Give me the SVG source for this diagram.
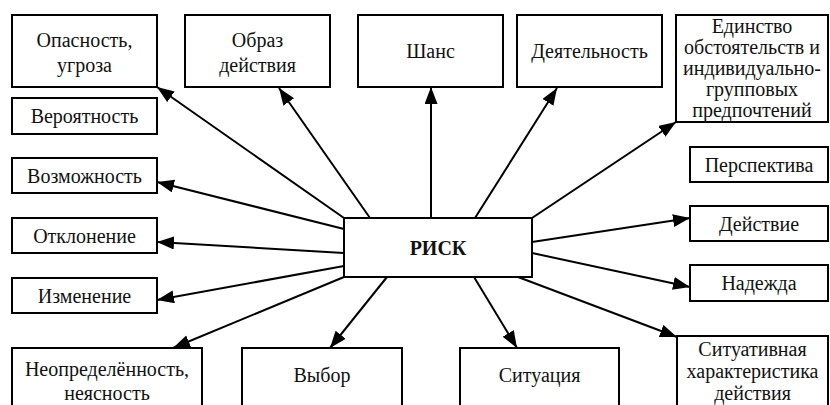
<svg xmlns="http://www.w3.org/2000/svg" width="830" height="405" viewBox="0 0 830 405" font-family="Liberation Serif, Times New Roman, Tinos, DejaVu Serif, serif">
<defs>
<marker id="ah" markerUnits="userSpaceOnUse" markerWidth="18" markerHeight="14" refX="17" refY="6.5" orient="auto">
<path d="M0,0 L17,6.5 L0,13 z" fill="#000"/>
</marker>
<style>
rect{fill:#fff;stroke:#000;stroke-width:2}
text{font-size:20px;text-anchor:middle;fill:#111}
.b{font-weight:bold}
#connectors line{stroke:#000;stroke-width:2;marker-end:url(#ah)}
</style>
</defs>
<rect x="0" y="0" width="830" height="405" style="fill:#fff;stroke:none"/>
<g id="connectors">
<line x1="344" y1="218" x2="157" y2="87"/>
<line x1="370" y1="218" x2="279" y2="88"/>
<line x1="431" y1="218" x2="431" y2="87"/>
<line x1="475" y1="218" x2="557" y2="88"/>
<line x1="532" y1="218" x2="676" y2="122"/>
<line x1="344" y1="229" x2="157" y2="182"/>
<line x1="344" y1="253" x2="157" y2="242"/>
<line x1="344" y1="266" x2="157" y2="300"/>
<line x1="344" y1="277" x2="173" y2="348"/>
<line x1="387" y1="277" x2="330" y2="348"/>
<line x1="474" y1="277" x2="517" y2="348"/>
<line x1="518" y1="277" x2="677" y2="337"/>
<line x1="532" y1="242" x2="690" y2="218"/>
<line x1="532" y1="253" x2="690" y2="287"/>
</g>
<g id="risk"><rect x="344" y="218" width="188" height="59"/><text class="b" x="438" y="255">РИСК</text></g>
<g id="opasnost"><rect x="12" y="15" width="145" height="72"/><text x="84.5" y="47">Опасность,</text><text x="84.5" y="72">угроза</text></g>
<g id="obraz"><rect x="185" y="15" width="145" height="72"/><text x="257.5" y="47">Образ</text><text x="257.5" y="72">действия</text></g>
<g id="shans"><rect x="358" y="15" width="145" height="72"/><text x="430.5" y="58">Шанс</text></g>
<g id="deyatelnost"><rect x="517" y="15" width="145" height="72"/><text x="589.5" y="58">Деятельность</text></g>
<g id="edinstvo"><rect x="676" y="15" width="152" height="107"/><text x="752" y="33">Единство</text><text x="752" y="54">обстоятельств и</text><text x="752" y="75">индивидуально-</text><text x="752" y="96">групповых</text><text x="752" y="117">предпочтений</text></g>
<g id="veroyatnost"><rect x="12" y="98" width="145" height="36"/><text x="84.5" y="123">Вероятность</text></g>
<g id="vozmozhnost"><rect x="12" y="158" width="145" height="35"/><text x="84.5" y="182.5">Возможность</text></g>
<g id="otklonenie"><rect x="12" y="218" width="145" height="35"/><text x="84.5" y="242.5">Отклонение</text></g>
<g id="izmenenie"><rect x="12" y="278" width="145" height="35"/><text x="84.5" y="302.5">Изменение</text></g>
<g id="perspektiva"><rect x="690" y="147" width="138" height="35"/><text x="759" y="171.5">Перспектива</text></g>
<g id="deystvie"><rect x="690" y="206" width="138" height="35"/><text x="759" y="230.5">Действие</text></g>
<g id="nadezhda"><rect x="690" y="265" width="138" height="36"/><text x="759" y="290">Надежда</text></g>
<g id="neopredelennost"><rect x="12" y="348" width="190" height="70"/><text x="107" y="376">Неопределённость,</text><text x="107" y="400">неясность</text></g>
<g id="vybor"><rect x="242" y="348" width="160" height="70"/><text x="322" y="382">Выбор</text></g>
<g id="situaciya"><rect x="460" y="348" width="159" height="70"/><text x="539.5" y="382">Ситуация</text></g>
<g id="situativnaya"><rect x="677" y="336" width="151" height="82"/><text x="752.5" y="356">Ситуативная</text><text x="752.5" y="378">характеристика</text><text x="752.5" y="400">действия</text></g>
</svg>
